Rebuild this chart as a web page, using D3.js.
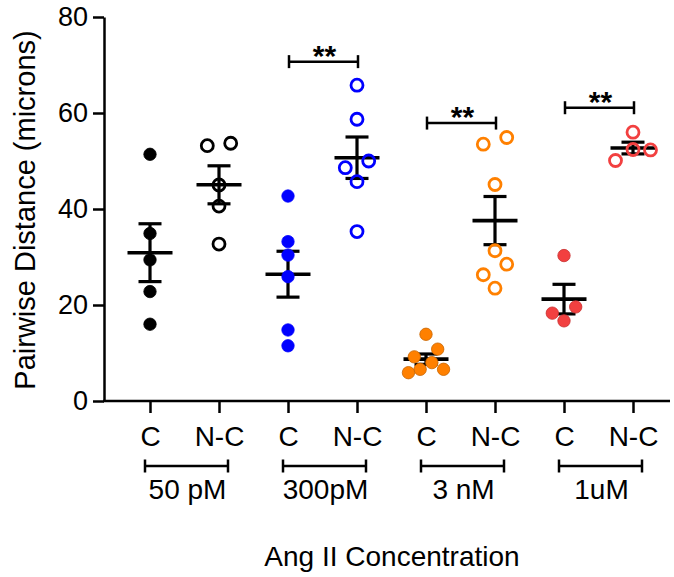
<!DOCTYPE html>
<html>
<head>
<meta charset="utf-8">
<script src="https://cdn.jsdelivr.net/npm/d3@7"></script>
<style>
  body{margin:0;background:#fff;}
  text{font-family:"Liberation Sans",Arial,sans-serif;fill:#000;}
</style>
</head>
<body>
<div id="root"></div>
<script>
// data
var groups=['50 pM','300pM','3 nM','1uM'];
var conds=['C','N-C'];
var c50=[51.4,34.9,29.4,22.8,16.0];
var nc50=[53.7,53.2,45.0,40.6,32.7];
var c300=[42.7,33.2,30.4,25.9,14.8,11.5];
var nc300=[65.8,58.7,50.0,48.6,45.7,35.3];
var c3n=[13.9,10.8,9.2,8.0,6.6,6.6,5.9];
var nc3n=[54.9,53.5,45.1,31.3,28.5,26.3,23.5];
var c1u=[30.3,19.6,18.3,16.7];
var nc1u=[56.0,52.4,52.3,50.1];
var yTicks=[0,20,40,60,80];
// significance bars: group and height (microns)
var sigGroups=['300pM','3 nM','1uM'];
var sigLevels=[70.7,57.9,61.1];
var sigLabels=['**','**','**'];

var groupColors={'50 pM':'#000000','300pM':'#0000ff','3 nM':'#ff8000','1uM':'#f24040'};
var groupEdge={'50 pM':'#000000','300pM':'#0000ff','3 nM':'#c86400','1uM':'#c83030'};

var series=[
  {g:'50 pM',c:'C',v:c50},{g:'50 pM',c:'N-C',v:nc50},
  {g:'300pM',c:'C',v:c300},{g:'300pM',c:'N-C',v:nc300},
  {g:'3 nM',c:'C',v:c3n},{g:'3 nM',c:'N-C',v:nc3n},
  {g:'1uM',c:'C',v:c1u},{g:'1uM',c:'N-C',v:nc1u}
];
series.forEach(function(s){s.key=s.g+'|'+s.c;});

var W=674,H=577;
var svg=d3.select('#root').append('svg').attr('width',W).attr('height',H);

var y=d3.scaleLinear().domain([0,80]).range([401,17]);
var x=d3.scalePoint().domain(series.map(function(s){return s.key})).range([150,633]);
var axisLeftX=104, axisRightX=670;

//y axis
var yAxis=svg.append('g').attr('transform','translate('+axisLeftX+',0)')
  .call(d3.axisLeft(y).tickValues(yTicks).tickSize(11).tickSizeOuter(0).tickPadding(5));
yAxis.selectAll('path,line').attr('stroke','#000').attr('stroke-width',2.5);
yAxis.selectAll('text').attr('font-size',27).attr('font-family','"Liberation Sans",Arial,sans-serif');

//x axis
var xAxis=svg.append('g').attr('transform','translate(0,'+y(0)+')')
  .call(d3.axisBottom(x).tickSize(12).tickSizeOuter(0).tickPadding(13).tickFormat(function(d){return d.split('|')[1]}));
xAxis.select('.domain').remove();
xAxis.selectAll('line').attr('stroke','#000').attr('stroke-width',2.5);
xAxis.selectAll('text').attr('font-size',28).attr('font-family','"Liberation Sans",Arial,sans-serif');
svg.append('line').attr('x1',axisLeftX-1).attr('x2',axisRightX).attr('y1',y(0)).attr('y2',y(0))
  .attr('stroke','#000').attr('stroke-width',2.5);

//group brackets under the axis
var gb=svg.append('g');
groups.forEach(function(g){
  var x0=x(g+'|C')-5, x1=x(g+'|N-C')+9, by=466;
  gb.append('line').attr('x1',x0).attr('x2',x1).attr('y1',by).attr('y2',by).attr('stroke','#000').attr('stroke-width',2.5);
  [x0,x1].forEach(function(xx){
    gb.append('line').attr('x1',xx).attr('x2',xx).attr('y1',by-6.5).attr('y2',by+6.5).attr('stroke','#000').attr('stroke-width',2.5);
  });
  gb.append('text').attr('x',(x(g+'|C')+x(g+'|N-C'))/2+3).attr('y',499).attr('text-anchor','middle')
    .attr('font-size',28).text(g);
});

//axis titles
svg.append('text').attr('transform','translate(35,210) rotate(-90)').attr('text-anchor','middle')
  .attr('font-size',29).text('Pairwise Distance (microns)');
svg.append('text').attr('x',392).attr('y',566).attr('text-anchor','middle')
  .attr('font-size',28).text('Ang II Concentration');

//mean +- sem
var eb=svg.append('g');
series.forEach(function(s){
  var m=d3.mean(s.v), se=d3.deviation(s.v)/Math.sqrt(s.v.length), cx=x(s.key);
  eb.append('line').attr('x1',cx).attr('x2',cx).attr('y1',y(m+se)).attr('y2',y(m-se)).attr('stroke','#000').attr('stroke-width',3.2);
  eb.append('line').attr('x1',cx-11.5).attr('x2',cx+11.5).attr('y1',y(m+se)).attr('y2',y(m+se)).attr('stroke','#000').attr('stroke-width',3.2);
  eb.append('line').attr('x1',cx-11.5).attr('x2',cx+11.5).attr('y1',y(m-se)).attr('y2',y(m-se)).attr('stroke','#000').attr('stroke-width',3.2);
  eb.append('line').attr('x1',cx-22.5).attr('x2',cx+22.5).attr('y1',y(m)).attr('y2',y(m)).attr('stroke','#000').attr('stroke-width',3.6);
});

//row based scatter: points close in y share a row and get spread sideways
var swarm=function(vals){
  var sorted=vals.slice().sort(function(a,b){return b-a});
  var rows=[], cur=null;
  sorted.forEach(function(v){
    var py=y(v);
    if(cur && py-cur[0].py<12){cur.push({v:v,py:py});}
    else{cur=[{v:v,py:py}];rows.push(cur);}
  });
  var out=[];
  rows.forEach(function(r){
    var n=r.length;
    r.forEach(function(p,i){
      var k=Math.ceil(i/2), side=(i%2===1)?1:-1;
      if(n===1){p.dx=0;}
      else if(n===2){p.dx=(i===0?1:-1)*11.7;}
      else if(n%2===1){p.dx=i===0?0:side*k*17.5;}
      else{p.dx=(i%2===0?1:-1)*(Math.floor(i/2)+0.5)*11.7;}
      out.push(p);
    });
  });
  return out;
};

var pts=svg.append('g');
series.forEach(function(s){
  var filled=s.c==='C';
  pts.selectAll(null).data(swarm(s.v)).enter().append('circle')
    .attr('cx',function(d){return x(s.key)+d.dx})
    .attr('cy',function(d){return d.py})
    .attr('r',filled?6.2:6)
    .attr('fill',filled?groupColors[s.g]:'none')
    .attr('stroke',filled?groupEdge[s.g]:groupColors[s.g])
    .attr('stroke-width',filled?0.8:2.8);
});

//significance bars
var sg=svg.append('g');
sigGroups.forEach(function(g,i){
  var x0=x(g+'|C')+1, x1=x(g+'|N-C')+1, by=y(sigLevels[i]);
  sg.append('line').attr('x1',x0).attr('x2',x1).attr('y1',by).attr('y2',by).attr('stroke','#000').attr('stroke-width',2.5);
  [x0,x1].forEach(function(xx){
    sg.append('line').attr('x1',xx).attr('x2',xx).attr('y1',by-6.5).attr('y2',by+6.5).attr('stroke','#000').attr('stroke-width',2.5);
  });
  sg.append('text').attr('x',(x0+x1)/2+1).attr('y',by+4).attr('text-anchor','middle')
    .attr('font-size',30).attr('font-weight','bold').text(sigLabels[i]);
});
</script>
</body>
</html>
